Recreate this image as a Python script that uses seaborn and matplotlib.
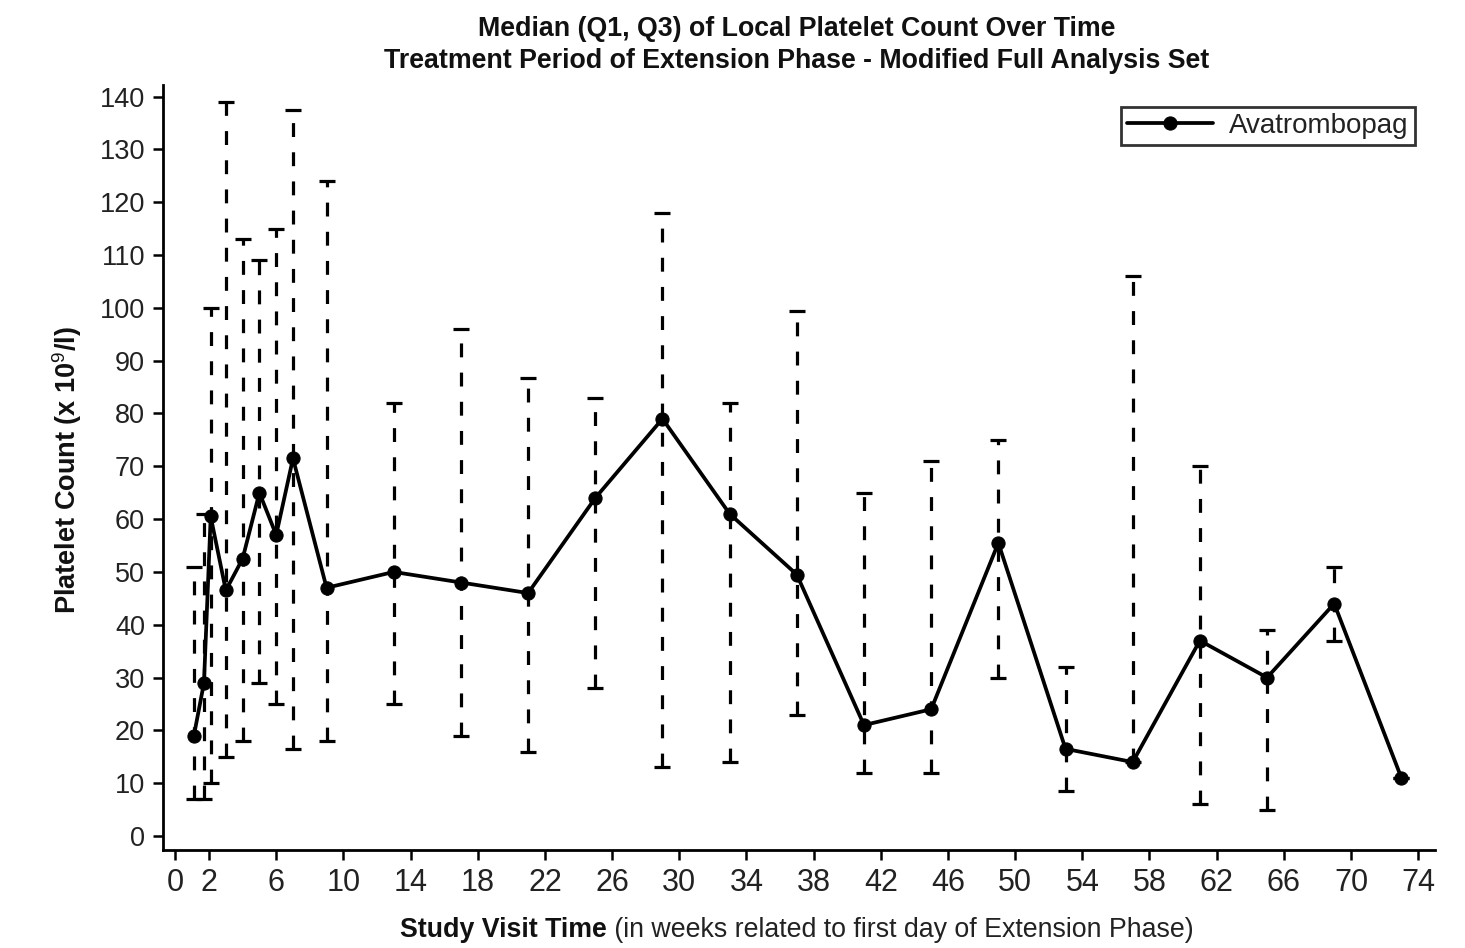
import numpy as np
import pandas as pd
import matplotlib
matplotlib.use("Agg")
import matplotlib.pyplot as plt
from matplotlib import font_manager
import seaborn as sns

# ---- data ----
weeks = [1.1, 1.7, 2.1, 3, 4, 5, 6, 7, 9, 13, 17, 21, 25, 29, 33, 37, 41, 45, 49, 53, 57, 61, 65, 69, 73]
median = [19, 29, 60.5, 46.5, 52.5, 65, 57, 71.5, 47, 50, 48, 46, 64, 79, 61, 49.5, 21, 24, 55.5, 16.5, 14, 37, 30, 44, 11]
q1 = [7, 7, 10, 15, 18, 29, 25, 16.5, 18, 25, 19, 16, 28, 13, 14, 23, 12, 12, 30, 8.5, 14, 6, 5, 37, 11]
q3 = [51, 61, 100, 139, 113, 109, 115, 137.5, 124, 82, 96, 86.7, 83, 118, 82, 99.4, 65, 71, 75, 32, 106, 70, 39, 51, 11]
series_name = "Avatrombopag"
x_ticks = [0, 2, 6, 10, 14, 18, 22, 26, 30, 34, 38, 42, 46, 50, 54, 58, 62, 66, 70, 74]
y_ticks = list(range(0, 141, 10))

title_text = "Median (Q1, Q3) of Local Platelet Count Over Time\nTreatment Period of Extension Phase - Modified Full Analysis Set"
xlabel_bold = "Study Visit Time"
xlabel_rest = " (in weeks related to first day of Extension Phase)"
ylabel_text = "Platelet Count (x 10$^{9}$/l)"

df = pd.DataFrame({"week": weeks, "median": median, "q1": q1, "q3": q3, "group": series_name})

sns.set_theme(style="white")
avail = {f.name for f in font_manager.fontManager.ttflist}
base = "Liberation Sans" if "Liberation Sans" in avail else "DejaVu Sans"
narrow = "Liberation Sans Narrow" if "Liberation Sans Narrow" in avail else base
plt.rcParams["font.family"] = [base, "DejaVu Sans"]
plt.rcParams["mathtext.fontset"] = "custom"
plt.rcParams["mathtext.rm"] = narrow
plt.rcParams["mathtext.bf"] = narrow + ":bold"
plt.rcParams["lines.scale_dashes"] = False

fig = plt.figure(figsize=(14.65, 9.48), dpi=100)
ax = fig.add_axes([163/1465, 1-850/948, (1435-163)/1465, (850-85)/948])

# error bars (Q1, Q3)
yerr = np.array([np.array(median) - np.array(q1), np.array(q3) - np.array(median)])
eb = ax.errorbar(df["week"], df["median"], yerr=yerr, fmt="none", ecolor="black",
                 elinewidth=2.3, capsize=5.5, capthick=2.3, zorder=2)
for lc in eb[2]:
    lc.set_linestyle((0, (10, 11)))

sns.lineplot(data=df, x="week", y="median", hue="group", palette=["black"],
             marker="o", markersize=9.5, linewidth=2.7, markeredgecolor="black",
             ax=ax, zorder=3, legend=True)

ax.set_xlim(-0.74, 75.0)
ax.set_ylim(-2.65, 142.2)
ax.set_xticks(x_ticks)
ax.set_yticks(y_ticks)
ax.tick_params(axis="both", which="major", direction="out", length=7, width=1.8,
               color="black", labelsize=19.5, labelcolor="#222222", pad=6,
               bottom=True, left=True)
for lab in ax.get_xticklabels():
    lab.set_fontfamily(narrow)
    lab.set_fontsize(22)
sns.despine(ax=ax)
for s in ["left", "bottom"]:
    ax.spines[s].set_linewidth(2.0)
    ax.spines[s].set_color("black")
ax.set_xlabel("")
ax.set_ylabel("")

# legend
handles, labels = ax.get_legend_handles_labels()
leg = ax.legend(handles, labels, loc="upper right", bbox_to_anchor=(1415/1465, 1-107/948),
                bbox_transform=fig.transFigure, frameon=True, fancybox=False,
                edgecolor="black", fontsize=20, handlelength=3.1, borderaxespad=0,
                borderpad=0.22, handletextpad=0.6)
leg.get_frame().set_linewidth(2.0)
for t in leg.get_texts():
    t.set_color("#222222")

# title
fig.text(797/1465, 1-45/948, title_text, ha="center", va="center", fontsize=19.3,
         fontweight="bold", family=narrow, linespacing=1.3, color="#111111")

# y label
fig.text(67/1465, 1-470/948, ylabel_text, rotation=90, ha="center", va="center",
         fontsize=19.5, fontweight="bold", family=narrow, color="#111111")

# x label: bold part + regular part
fig.canvas.draw()
renderer = fig.canvas.get_renderer()
tb = fig.text(0, 1-930/948, xlabel_bold, ha="left", va="center", fontsize=19.3,
              fontweight="bold", family=narrow, color="#111111")
tr = fig.text(0, 1-930/948, xlabel_rest, ha="left", va="center", fontsize=19.3,
              family=narrow, color="#222222")
wb = tb.get_window_extent(renderer).width
wr = tr.get_window_extent(renderer).width
total = wb + wr
start = 797 - total / 2
tb.set_x(start / 1465)
tr.set_x((start + wb) / 1465)

fig.savefig("out.png", dpi=100)
